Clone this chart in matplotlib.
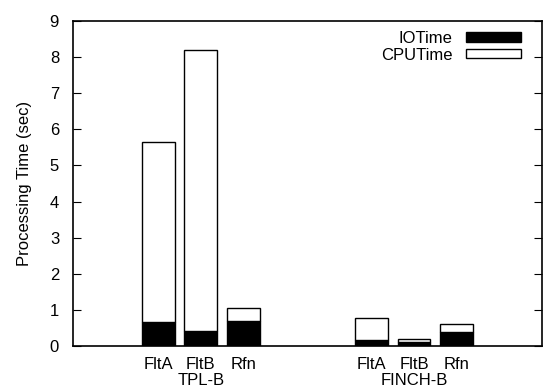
import matplotlib.pyplot as plt

plt.rcParams["font.family"] = ["Liberation Sans", "DejaVu Sans"]

# datos
labels = ["FltA", "FltB", "Rfn", "FltA", "FltB", "Rfn"]
groups = ["TPL-B", "FINCH-B"]
io_time = [0.66, 0.42, 0.69, 0.16, 0.12, 0.40]
total_time = [5.65, 8.20, 1.06, 0.78, 0.19, 0.62]
cpu_time = [t - i for t, i in zip(total_time, io_time)]
pos = [1, 2, 3, 6, 7, 8]

fig = plt.figure(figsize=(5.43, 3.9), dpi=100)
ax = fig.add_axes([0.1344, 0.1128, 0.8636, 0.8333])

ax.bar(pos, io_time, width=0.77, color="black", edgecolor="black", linewidth=1, label="IOTime")
ax.bar(pos, cpu_time, width=0.77, bottom=io_time, color="white", edgecolor="black",
       linewidth=1, label="CPUTime")

ax.set_xlim(-1, 10)
ax.set_ylim(0, 9)
ax.set_yticks(range(10))
ax.tick_params(axis="y", direction="in", length=6, right=True, labelsize=12, width=0.8, pad=10)
ax.set_xticks(pos)
ax.set_xticklabels(labels, fontsize=12)
ax.tick_params(axis="x", length=0, pad=8)
ax.set_ylabel("Processing Time (sec)", fontsize=12, labelpad=13)

# etiquetas de grupo
ax.text(2, -0.96, groups[0], ha="center", va="center", fontsize=12, clip_on=False)
ax.text(7, -0.96, groups[1], ha="center", va="center", fontsize=12, clip_on=False)

for s in ax.spines.values():
    s.set_linewidth(1.2)

ax.legend(loc="upper right", frameon=False, markerfirst=False, fontsize=12,
          handlelength=3.3, handleheight=0.5, labelspacing=0.1, handletextpad=0.8,
          borderaxespad=0.0, bbox_to_anchor=(0.97, 0.99))

plt.savefig("out.png", dpi=100)
